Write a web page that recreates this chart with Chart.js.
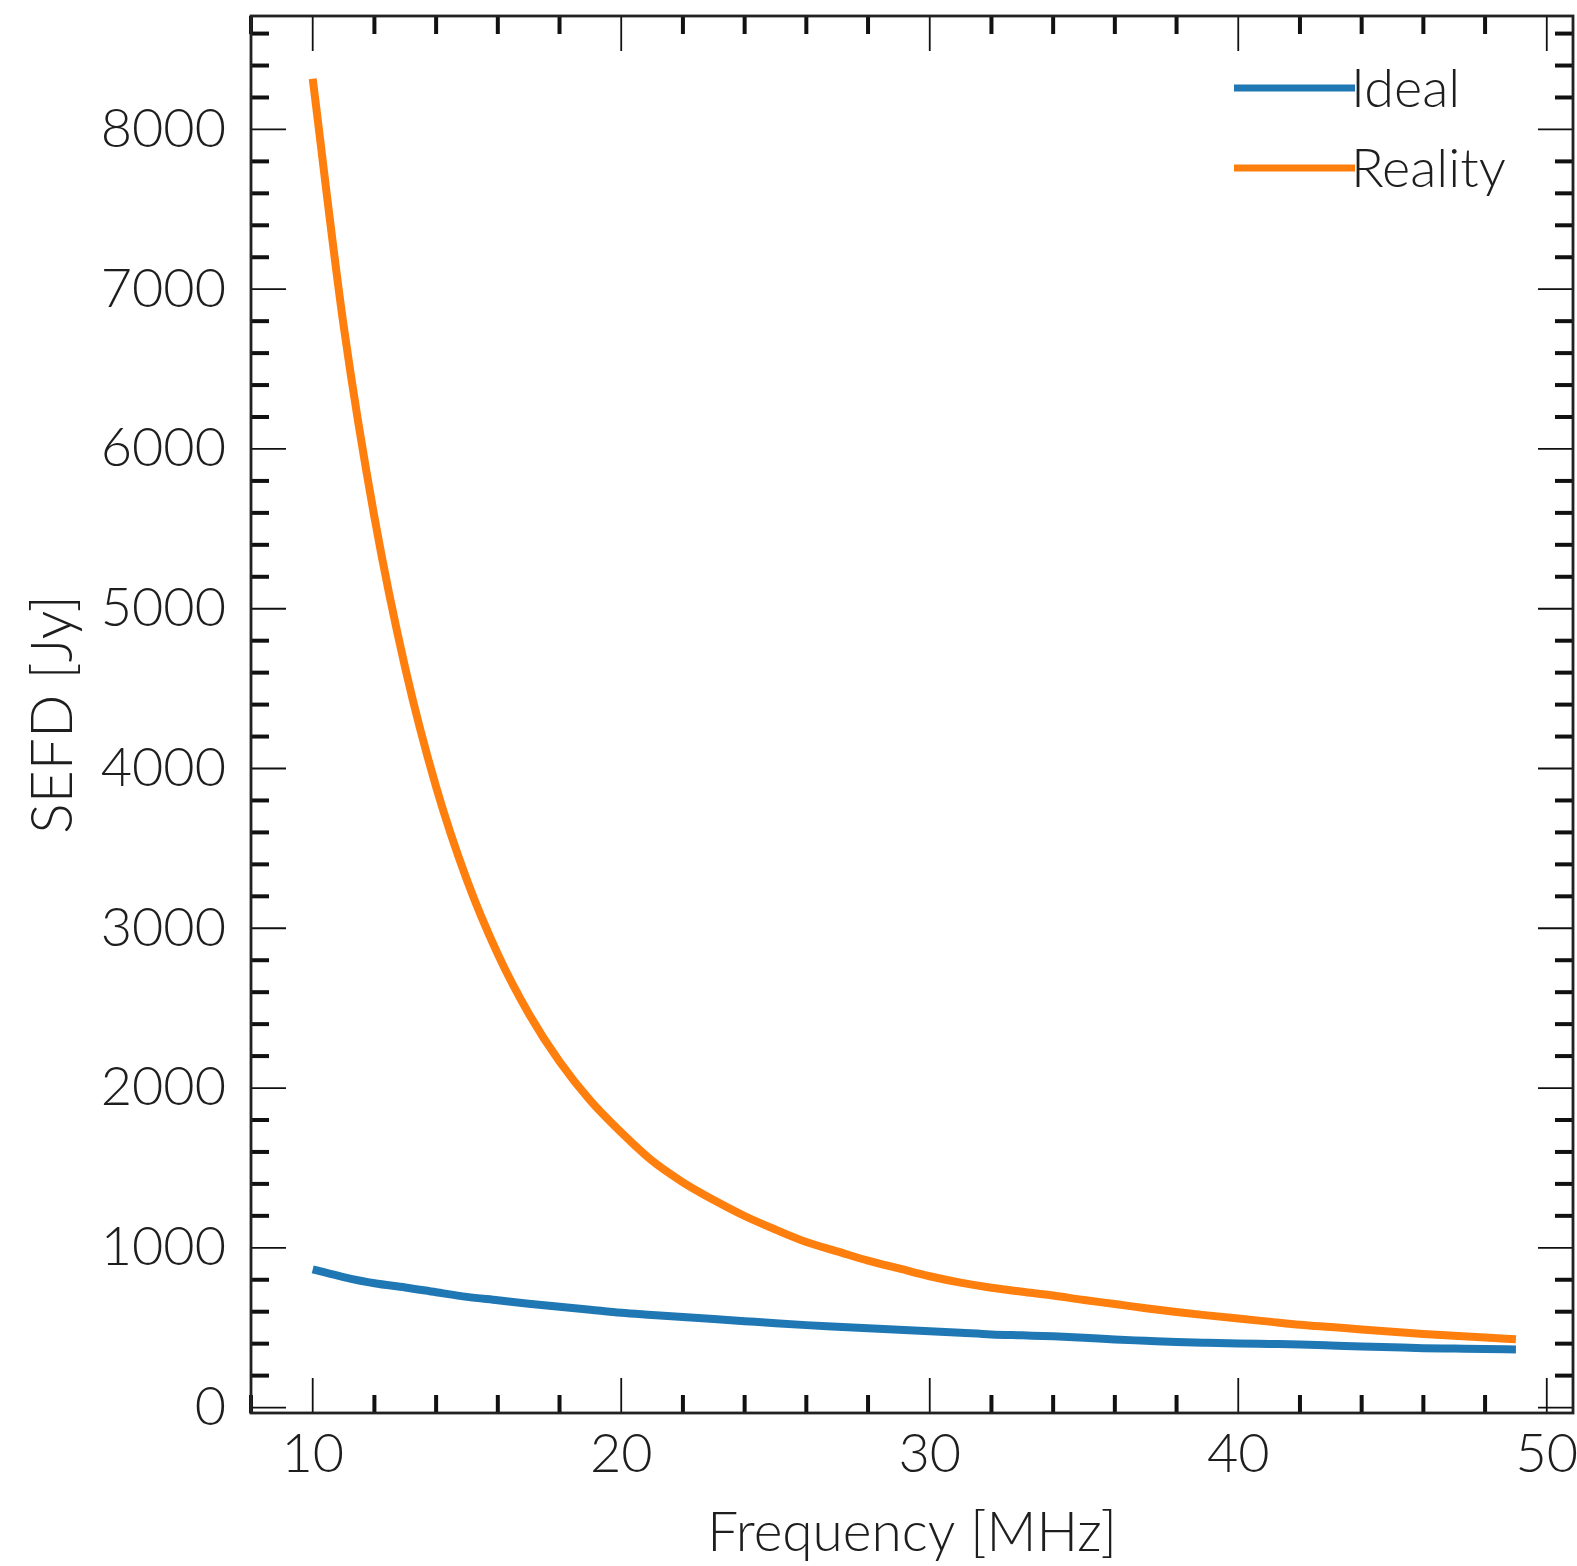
<!DOCTYPE html>
<html>
<head>
<meta charset="utf-8">
<title>SEFD vs frequency</title>
<script src="https://cdn.jsdelivr.net/npm/chart.js@4.4.1/dist/chart.umd.min.js"></script>
<style>
  html, body { margin: 0; padding: 0; background: #fff; }
  canvas { display: block; }
</style>
</head>
<body>
<canvas id="sefd" width="1577" height="1566"></canvas>
<script>
// frequency grid (MHz) and system equivalent flux density (Jy)
const freqMHz = [10, 11, 12, 13, 14, 15, 16, 17, 18, 19,
                 20, 21, 22, 23, 24, 25, 26, 27, 28, 29,
                 30, 31, 32, 33, 34, 35, 36, 37, 38, 39,
                 40, 41, 42, 43, 44, 45, 46, 47, 48, 49];
const sefdIdeal = [865, 817, 778, 752, 722, 693, 672, 650, 631, 612,
                   593, 580, 567, 554, 541, 528, 516, 506, 496, 487,
                   478, 468, 458, 452, 446, 437, 426, 418, 410, 405,
                   401, 398, 395, 389, 382, 377, 372, 369, 366, 364];
const sefdReality = [8317, 6775, 5574, 4628, 3885, 3301, 2838, 2467, 2166, 1921,
                     1722, 1545, 1410, 1299, 1199, 1114, 1036, 978, 920, 871,
                     822, 782, 750, 725, 701, 673, 648, 622, 598, 577,
                     557, 538, 519, 504, 489, 475, 461, 449, 438, 428];

const xTicks = [10, 20, 30, 40, 50];
const yTicks = [0, 1000, 2000, 3000, 4000, 5000, 6000, 7000, 8000];
const xMinorStep = 2;
const yMinorStep = 200;

const FONT = 'Lato, "Open Sans", sans-serif';
const INK = '#1e1e1e';

function minorValues(min, max, step, majors) {
  const out = [];
  for (let v = Math.ceil(min / step) * step; v <= max; v += step) {
    if (!majors.includes(v)) out.push(v);
  }
  return out;
}

// inward ticks on all four sides plus the box frame
const frameTicks = {
  id: 'frameTicks',
  afterDatasetsDraw(chart) {
    const { ctx, chartArea: a, scales: { x, y } } = chart;
    const seg = (x1, y1, x2, y2, w) => {
      ctx.lineWidth = w;
      ctx.beginPath();
      ctx.moveTo(x1, y1);
      ctx.lineTo(x2, y2);
      ctx.stroke();
    };
    ctx.save();
    ctx.strokeStyle = '#111';
    minorValues(x.min, x.max, xMinorStep, xTicks).forEach(v => {
      const p = x.getPixelForValue(v);
      seg(p, a.bottom, p, a.bottom - 18, 4);
      seg(p, a.top, p, a.top + 18, 4);
    });
    xTicks.forEach(v => {
      const p = x.getPixelForValue(v);
      seg(p, a.bottom, p, a.bottom - 35, 1.8);
      seg(p, a.top, p, a.top + 35, 1.8);
    });
    minorValues(y.min, y.max, yMinorStep, yTicks).forEach(v => {
      const p = y.getPixelForValue(v);
      seg(a.left, p, a.left + 18, p, 4);
      seg(a.right, p, a.right - 18, p, 4);
    });
    yTicks.forEach(v => {
      const p = y.getPixelForValue(v);
      seg(a.left, p, a.left + 35, p, 1.8);
      seg(a.right, p, a.right - 35, p, 1.8);
    });
    ctx.strokeStyle = '#222';
    ctx.lineWidth = 2.8;
    ctx.strokeRect(a.left, a.top, a.right - a.left, a.bottom - a.top);
    ctx.restore();
  }
};

// legend in the upper right corner, line sample touching the label
const cornerLegend = {
  id: 'cornerLegend',
  afterDraw(chart) {
    const { ctx, chartArea: a } = chart;
    ctx.save();
    chart.data.datasets.forEach((ds, i) => {
      const yMid = a.top + 72 + i * 80;
      ctx.strokeStyle = ds.borderColor;
      ctx.lineWidth = 7;
      ctx.beginPath();
      ctx.moveTo(a.right - 339, yMid);
      ctx.lineTo(a.right - 218, yMid);
      ctx.stroke();
      ctx.fillStyle = INK;
      ctx.font = '300 54px ' + FONT;
      ctx.textAlign = 'left';
      ctx.textBaseline = 'alphabetic';
      ctx.fillText(ds.label, a.right - 222, yMid + 19);
    });
    ctx.restore();
  }
};

function draw() {
  new Chart(document.getElementById('sefd'), {
    type: 'line',
    data: {
      labels: freqMHz,
      datasets: [
        {
          label: 'Ideal',
          data: freqMHz.map((f, i) => ({ x: f, y: sefdIdeal[i] })),
          borderColor: '#1f77b4',
          borderWidth: 8,
          pointRadius: 0,
          cubicInterpolationMode: 'monotone',
          fill: false
        },
        {
          label: 'Reality',
          data: freqMHz.map((f, i) => ({ x: f, y: sefdReality[i] })),
          borderColor: '#ff7f0e',
          borderWidth: 8,
          pointRadius: 0,
          cubicInterpolationMode: 'monotone',
          fill: false
        }
      ]
    },
    options: {
      responsive: false,
      animation: false,
      devicePixelRatio: 1,
      layout: { padding: { top: 16, right: 4, left: 0, bottom: 0 } },
      plugins: {
        legend: { display: false },
        tooltip: { enabled: false }
      },
      scales: {
        x: {
          type: 'linear',
          min: 8.0,
          max: 50.85,
          grid: { display: false, drawTicks: false },
          border: { display: false },
          afterBuildTicks: s => { s.ticks = xTicks.map(v => ({ value: v })); },
          afterFit: s => { s.height = 153; s.paddingLeft = 0; s.paddingRight = 0; },
          ticks: {
            padding: 9,
            maxRotation: 0,
            color: INK,
            font: { family: FONT, size: 54, weight: 300 },
            callback: v => String(v)
          },
          title: {
            display: true,
            text: 'Frequency [MHz]',
            color: INK,
            font: { family: FONT, size: 55, weight: 300 },
            padding: { top: 0, bottom: 0 }
          }
        },
        y: {
          type: 'linear',
          min: -34,
          max: 8710,
          grid: { display: false, drawTicks: false },
          border: { display: false },
          afterBuildTicks: s => { s.ticks = yTicks.map(v => ({ value: v })); },
          afterFit: s => { s.width = 251; s.paddingTop = 0; s.paddingBottom = 0; },
          ticks: {
            padding: 25,
            color: INK,
            font: { family: FONT, size: 54, weight: 300 },
            callback: v => String(v)
          },
          title: {
            display: true,
            text: 'SEFD [Jy]',
            color: INK,
            font: { family: FONT, size: 57, weight: 300 },
            padding: { top: 19, bottom: 0 }
          }
        }
      }
    },
    plugins: [frameTicks, cornerLegend]
  });
}

document.fonts.load('300 54px Lato').then(draw, draw);
</script>
</body>
</html>
